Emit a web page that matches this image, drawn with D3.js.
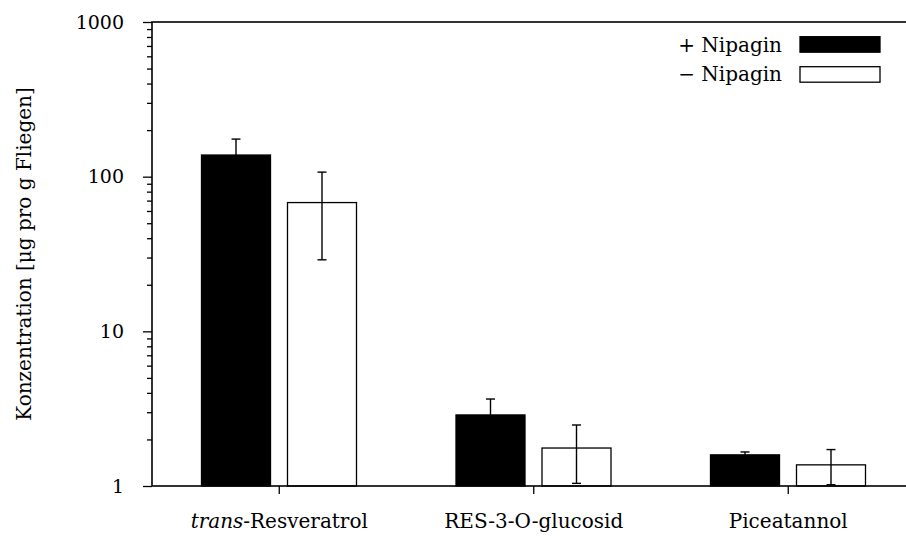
<!DOCTYPE html>
<html>
<head>
<meta charset="utf-8">
<script src="https://cdn.jsdelivr.net/npm/d3@7"></script>
<style>
  html, body { margin: 0; padding: 0; background: #fff; }
  svg { display: block; }
  text { font-family: "DejaVu Serif", serif; fill: #000; }
</style>
</head>
<body>
<svg id="chart" width="906" height="537"></svg>
<script>
// ---- data ----
const categories = ["trans-Resveratrol", "RES-3-O-glucosid", "Piceatannol"];
const seriesNames = ["+ Nipagin", "\u2212 Nipagin"];
const withNipagin = [138, 2.88, 1.59];
const withNipaginErr = [37, 0.77, 0.07];
const withoutNipagin = [68, 1.76, 1.37];
const withoutNipaginErr = [39, 0.72, 0.35];
const yTickValues = [1, 10, 100, 1000];
const yTickLabels = ["1", "10", "100", "1000"];
const yAxisLabel = "Konzentration [\u03BCg pro g Fliegen]";

// ---- layout ----
const svg = d3.select("#chart");
const plotL = 152, plotR = 915.5, plotT = 22, plotB = 486;
const fontSize = 20;
const tickFontSize = 19;
const fontFamily = "DejaVu Serif, serif";

const x = d3.scaleBand().domain(categories).range([plotL, plotR]).paddingInner(0).paddingOuter(0);
const xs = d3.scaleBand().domain(seriesNames).range([49.5, 204.5]).paddingInner(17 / 86).paddingOuter(0);
const y = d3.scaleLog().domain([1, 1000]).range([plotB, plotT]);

const series = [
  { name: seriesNames[0], values: withNipagin, errs: withNipaginErr, fill: "#000" },
  { name: seriesNames[1], values: withoutNipagin, errs: withoutNipaginErr, fill: "#fff" }
];

// bars
series.forEach(s => {
  svg.append("g").selectAll("rect")
    .data(categories.map((c, i) => ({ c, v: s.values[i], e: s.errs[i] })))
    .join("rect")
    .attr("x", d => x(d.c) + xs(s.name))
    .attr("y", d => y(d.v))
    .attr("width", xs.bandwidth())
    .attr("height", d => y(1) - y(d.v))
    .attr("fill", s.fill)
    .attr("stroke", "#000")
    .attr("stroke-width", 1.3);
});

// error bars
const capW = 4.5;
series.forEach(s => {
  const g = svg.append("g").attr("stroke", "#000").attr("stroke-width", 1.4);
  categories.forEach((c, i) => {
    const cx = x(c) + xs(s.name) + xs.bandwidth() / 2;
    const hi = s.values[i] + s.errs[i];
    const lo = Math.max(1, s.values[i] - s.errs[i]);
    g.append("line").attr("x1", cx).attr("x2", cx).attr("y1", y(hi)).attr("y2", y(lo));
    g.append("line").attr("x1", cx - capW).attr("x2", cx + capW).attr("y1", y(hi)).attr("y2", y(hi));
    g.append("line").attr("x1", cx - capW).attr("x2", cx + capW).attr("y1", y(lo)).attr("y2", y(lo));
  });
});

// frame
svg.append("rect")
  .attr("x", plotL).attr("y", plotT)
  .attr("width", plotR - plotL).attr("height", plotB - plotT)
  .attr("fill", "none").attr("stroke", "#000").attr("stroke-width", 1.6);

// y axis: major ticks
const yAxis = d3.axisLeft(y)
  .tickValues(yTickValues)
  .tickFormat((d, i) => yTickLabels[i])
  .tickSize(9)
  .tickPadding(19);
const gy = svg.append("g").attr("transform", `translate(${plotL},0)`).call(yAxis);
gy.select(".domain").remove();
gy.selectAll(".tick line").attr("stroke", "#000").attr("stroke-width", 1.3);
gy.selectAll(".tick text").style("font-size", tickFontSize + "px").style("font-family", fontFamily);

// y axis: minor ticks
const minorVals = [];
[1, 10, 100].forEach(dec => { for (let k = 2; k <= 9; k++) minorVals.push(dec * k); });
const yMinor = d3.axisLeft(y).tickValues(minorVals).tickFormat("").tickSize(5);
const gm = svg.append("g").attr("transform", `translate(${plotL},0)`).call(yMinor);
gm.select(".domain").remove();
gm.selectAll(".tick line").attr("stroke", "#000").attr("stroke-width", 1.3);

// x axis
const xAxis = d3.axisBottom(x).tickSize(8).tickFormat("");
const gx = svg.append("g").attr("transform", `translate(0,${plotB})`).call(xAxis);
gx.select(".domain").remove();
gx.selectAll(".tick line").attr("stroke", "#000").attr("stroke-width", 1.3);

// category labels
categories.forEach(c => {
  const t = svg.append("text")
    .attr("x", x(c) + x.bandwidth() / 2)
    .attr("y", 528)
    .attr("text-anchor", "middle")
    .style("font-size", fontSize + "px");
  if (c.startsWith("trans-")) {
    t.append("tspan").style("font-style", "italic").text("trans");
    t.append("tspan").text(c.slice(5));
  } else {
    t.text(c);
  }
});

// y axis label
svg.append("text")
  .attr("transform", `translate(31,${(plotT + plotB) / 2}) rotate(-90)`)
  .attr("text-anchor", "middle")
  .style("font-size", fontSize + "px")
  .text(yAxisLabel);

// legend
const legendY = [51.5, 81];
const legendRectY = [36.7, 66.7];
series.forEach((s, i) => {
  svg.append("text")
    .attr("x", 782)
    .attr("y", legendY[i])
    .attr("text-anchor", "end")
    .style("font-size", fontSize + "px")
    .text(s.name);
  svg.append("rect")
    .attr("x", 800).attr("y", legendRectY[i])
    .attr("width", 80).attr("height", 15.5)
    .attr("fill", s.fill).attr("stroke", "#000").attr("stroke-width", 1.3);
});
</script>
</body>
</html>
